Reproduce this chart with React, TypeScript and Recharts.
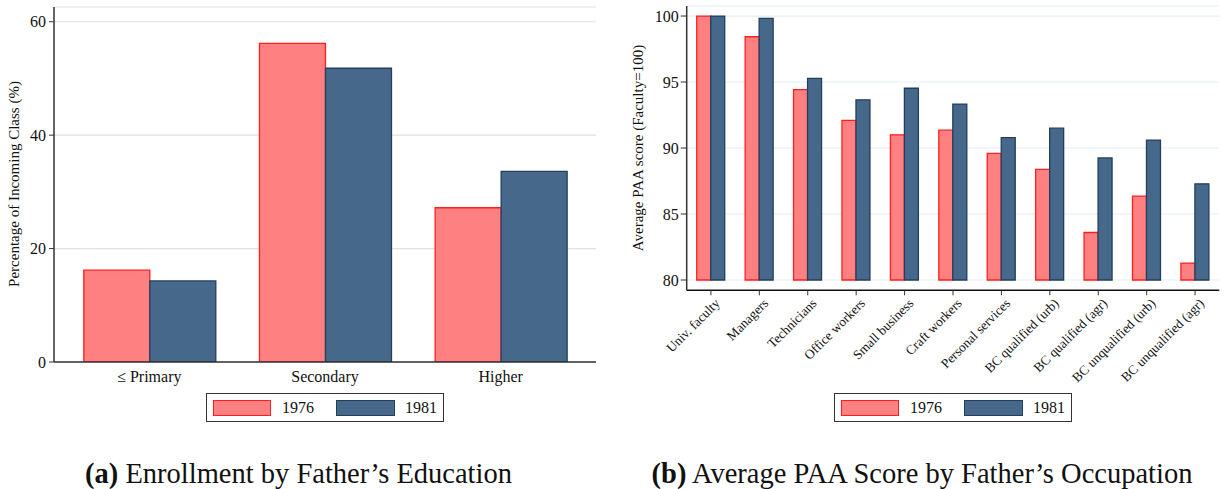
import React from 'react';
import { BarChart, Bar, XAxis, YAxis, CartesianGrid, Legend } from 'recharts';

const eduCategories = ['≤ Primary', 'Secondary', 'Higher'];
const enroll1976 = [16.2, 56.2, 27.2];
const enroll1981 = [14.3, 51.8, 33.6];
const enrollTicks = [0, 20, 40, 60];

const occCategories = [
  'Univ. faculty', 'Managers', 'Technicians', 'Office workers', 'Small business',
  'Craft workers', 'Personal services', 'BC qualified (urb)', 'BC qualified (agr)',
  'BC unqualified (urb)', 'BC unqualified (agr)',
];
const paa1976 = [100, 98.43, 94.42, 92.1, 91.0, 91.35, 89.6, 88.38, 83.6, 86.36, 81.28];
const paa1981 = [100, 99.82, 95.28, 93.65, 94.53, 93.33, 90.78, 91.5, 89.25, 90.6, 87.29];
const paaBase = 80;
const paaTicks = [80, 85, 90, 95, 100];

const seriesNames = ['1976', '1981'];

const FONT = '"Liberation Serif", "Times New Roman", serif';
const RED_FILL = '#ff8080';
const RED_STROKE = '#ff1f1f';
const BLUE_FILL = '#46688b';
const BLUE_STROKE = '#223f5e';
const TEXT = '#111';
const AXIS = '#333';

const enrollData = eduCategories.map((c, i) => ({ cat: c, y1976: enroll1976[i], y1981: enroll1981[i] }));
const paaData = occCategories.map((c, i) => ({ cat: c, y1976: [paaBase, paa1976[i]], y1981: [paaBase, paa1981[i]] }));

const LegendBox = () => (
  <div
    style={{
      boxSizing: 'border-box', width: 238, height: 29, border: '1.3px solid #333', background: '#fff',
      display: 'flex', alignItems: 'center', fontFamily: FONT, fontSize: 16, color: TEXT,
    }}
  >
    <div style={{ boxSizing: 'border-box', marginLeft: 6, width: 58, height: 16, background: RED_FILL, border: `1.3px solid ${RED_STROKE}` }} />
    <span style={{ marginLeft: 11, width: 30 }}>{seriesNames[0]}</span>
    <div style={{ boxSizing: 'border-box', marginLeft: 24, width: 59, height: 16, background: BLUE_FILL, border: `1.3px solid ${BLUE_STROKE}` }} />
    <span style={{ marginLeft: 10 }}>{seriesNames[1]}</span>
  </div>
);

const AxisTitle = ({ cx, cy, text }: { cx: number; cy: number; text: string }) => (
  <text
    x={cx}
    y={cy}
    transform={`rotate(-90 ${cx} ${cy})`}
    textAnchor="middle"
    dominantBaseline="central"
    fontFamily={FONT}
    fontSize={15}
    fill={TEXT}
  >
    {text}
  </text>
);

const RotTick = (props: any) => {
  const { x, y, payload } = props;
  return (
    <g transform={`translate(${x + 3},${y})`}>
      <text x={0} y={0} dy="0.72em" textAnchor="end" transform="rotate(-45)" fontFamily={FONT} fontSize={13.3} fill={TEXT}>
        {payload.value}
      </text>
    </g>
  );
};

export default function App() {
  return (
    <div style={{ position: 'absolute', left: 0, top: 0, width: 1225, height: 489, background: '#fff', fontFamily: FONT }}>
      <div style={{ position: 'absolute', left: 0, top: 0 }}>
        <BarChart
          width={612}
          height={440}
          data={enrollData}
          margin={{ top: 7, right: 16, bottom: 0, left: 0 }}
          barCategoryGap="12.7%"
          barGap={0}
        >
          <CartesianGrid vertical={false} stroke="#e0e0e0" strokeWidth={1.2} />
          <XAxis
            dataKey="cat"
            height={49}
            padding={{ left: 7.5, right: 7.5 }}
            tickLine={false}
            tickSize={0}
            tickMargin={9}
            axisLine={{ stroke: AXIS, strokeWidth: 1.5 }}
            tick={{ fontFamily: FONT, fontSize: 16, fill: TEXT }}
          />
          <YAxis
            width={54}
            domain={[0, 62.6]}
            ticks={enrollTicks}
            tickSize={5}
            tickMargin={3}
            allowDataOverflow
            axisLine={{ stroke: AXIS, strokeWidth: 1.5 }}
            tickLine={{ stroke: AXIS }}
            tick={{ fontFamily: FONT, fontSize: 16, fill: TEXT }}
            label={<AxisTitle cx={14} cy={184} text="Percentage of Incoming Class (%)" />}
          />
          <Legend
            content={<LegendBox />}
            wrapperStyle={{ position: 'absolute', left: 206, top: 393, width: 238, height: 29 }}
          />
          <Bar dataKey="y1976" name={seriesNames[0]} fill={RED_FILL} stroke={RED_STROKE} strokeWidth={1.3} isAnimationActive={false} />
          <Bar dataKey="y1981" name={seriesNames[1]} fill={BLUE_FILL} stroke={BLUE_STROKE} strokeWidth={1.3} isAnimationActive={false} />
        </BarChart>
      </div>

      <div style={{ position: 'absolute', left: 612, top: 0 }}>
        <BarChart
          width={613}
          height={440}
          data={paaData}
          margin={{ top: 6, right: 5.7, bottom: 0, left: 0 }}
          barCategoryGap="20.7%"
          barGap={0}
        >
          <CartesianGrid vertical={false} stroke="#e4edf1" strokeWidth={1.2} />
          <XAxis
            dataKey="cat"
            height={120.7}
            interval={0}
            tickSize={5}
            tickMargin={2}
            axisLine={{ stroke: '#111', strokeWidth: 1.5 }}
            tickLine={{ stroke: AXIS }}
            tick={<RotTick />}
          />
          <YAxis
            width={74.7}
            domain={[79.22, 100.76]}
            ticks={paaTicks}
            tickSize={6}
            tickMargin={2}
            allowDataOverflow
            axisLine={{ stroke: AXIS, strokeWidth: 1.5 }}
            tickLine={{ stroke: AXIS }}
            tick={{ fontFamily: FONT, fontSize: 16, fill: TEXT }}
            label={<AxisTitle cx={26} cy={148} text="Average PAA score (Faculty=100)" />}
          />
          <Legend
            content={<LegendBox />}
            wrapperStyle={{ position: 'absolute', left: 222, top: 393, width: 238, height: 29 }}
          />
          <Bar dataKey="y1976" name={seriesNames[0]} fill={RED_FILL} stroke={RED_STROKE} strokeWidth={1.3} isAnimationActive={false} />
          <Bar dataKey="y1981" name={seriesNames[1]} fill={BLUE_FILL} stroke={BLUE_STROKE} strokeWidth={1.3} isAnimationActive={false} />
        </BarChart>
      </div>

      <div style={{ position: 'absolute', left: -1.5, top: 460, width: 600, textAlign: 'center', fontSize: 28.5, lineHeight: '28.5px', color: TEXT, whiteSpace: 'nowrap' }}>
        <b>(a)</b> Enrollment by Father’s Education
      </div>
      <div style={{ position: 'absolute', left: 622, top: 460, width: 600, textAlign: 'center', fontSize: 28.5, lineHeight: '28.5px', color: TEXT, whiteSpace: 'nowrap' }}>
        <b>(b)</b> Average PAA Score by Father’s Occupation
      </div>
    </div>
  );
}
